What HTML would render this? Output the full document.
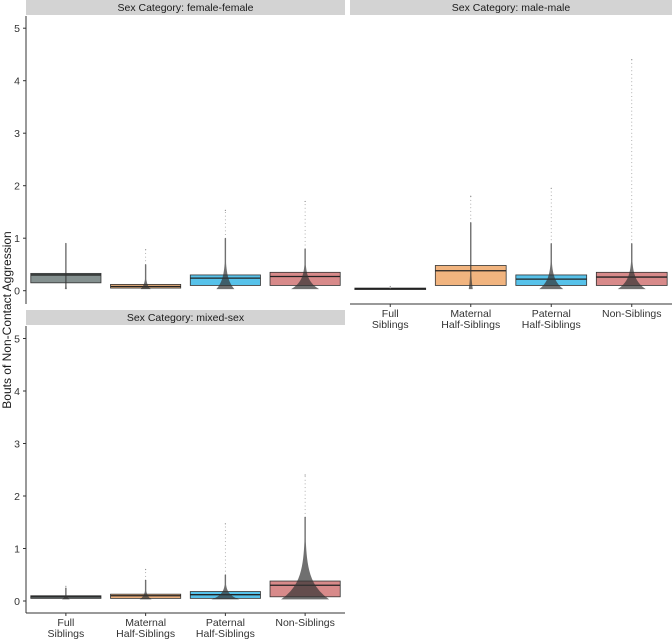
<!DOCTYPE html>
<html><head><meta charset="utf-8"><style>
html,body{margin:0;padding:0;background:#fff;}
svg text{font-family:"Liberation Sans",Arial,sans-serif;}
</style></head><body>
<svg id="chart" width="672" height="639" viewBox="0 0 672 639" xmlns="http://www.w3.org/2000/svg"></svg>
<script>
const categories = ["Full Siblings","Maternal Half-Siblings","Paternal Half-Siblings","Non-Siblings"];
const panelNames = ["female-female","male-male","mixed-sex"];
const yTicks = [0,1,2,3,4,5];
// per panel, per category: q1, median, q3
const q1Vals = [[0.15,0.05,0.10,0.10],[0.03,0.10,0.10,0.10],[0.05,0.05,0.05,0.08]];
const medVals = [[0.30,0.08,0.24,0.27],[0.04,0.38,0.22,0.26],[0.08,0.10,0.12,0.30]];
const q3Vals = [[0.33,0.12,0.30,0.35],[0.05,0.48,0.30,0.35],[0.10,0.13,0.18,0.38]];
const maxVals = [[0.90,0.78,1.53,1.70],[0.08,1.80,1.95,4.40],[0.28,0.60,1.47,2.40]];
const denseTop = [[0.90,0.50,1.00,0.80],[0.05,1.30,0.90,0.90],[0.25,0.40,0.50,1.60]];
const fills = ["#84908f","#f1b47f","#57c2ea","#d88a8a"];
const swarmHalf = [[1,5,9,14],[3,2,12,14],[4,6,14,24]];

const NS="http://www.w3.org/2000/svg";
const svg=document.getElementById('chart');
function mk(tag,attrs,parent){const e=document.createElementNS(NS,tag);for(const k in attrs)e.setAttribute(k,attrs[k]);(parent||svg).appendChild(e);return e;}

const panels=[
 {x0:26,x1:345,zero:290.7,axisBottom:304,stripY:0,yAxis:true,xAxis:false},
 {x0:350,x1:672,zero:290.7,axisBottom:304,stripY:0,yAxis:false,xAxis:true},
 {x0:26,x1:345,zero:601,axisBottom:613,stripY:310,yAxis:true,xAxis:true}
];
const unit=52.5;
panels.forEach((p,pi)=>{
  const g=mk('g',{});
  
  
  const y=v=>p.zero-v*unit;
  const bw=(p.x1-p.x0)/4;
  const xc=i=>p.x0+bw*(i+0.5);
  const strip=mk('rect',{x:p.x0,y:p.stripY,width:p.x1-p.x0,height:15,fill:'#d3d3d3'},g);
  
  
  const st=mk('text',{x:(p.x0+p.x1)/2,y:p.stripY+11,'text-anchor':'middle','font-size':'10.5',fill:'#1a1a1a'},g);
  st.textContent='Sex Category: '+panelNames[pi];
  
  
  if(p.yAxis){
    const ax=mk('line',{x1:p.x0,x2:p.x0,y1:p.stripY+16,y2:p.axisBottom,stroke:'#333','stroke-width':1},g);
    
    
    yTicks.forEach(t=>{
      mk('line',{x1:p.x0-3,x2:p.x0,y1:y(t),y2:y(t),stroke:'#333'},g);
      const tt=mk('text',{x:p.x0-6,y:y(t)+4,'text-anchor':'end','font-size':'10.5',fill:'#333'},g);
      tt.textContent=t;
      
      
    });
  }
  if(p.xAxis){
    const ax=mk('line',{x1:p.x0,x2:p.x1,y1:p.axisBottom,y2:p.axisBottom,stroke:'#333'},g);
    
    
  }
  categories.forEach((c,i)=>{
    const cx=xc(i),hw=bw*0.44;
    const box=mk('rect',{x:cx-hw,y:y(q3Vals[pi][i]),width:2*hw,height:Math.max(1.5,(q3Vals[pi][i]-q1Vals[pi][i])*unit),fill:fills[i],stroke:'#333','stroke-width':0.8},g);
    
    
    mk('line',{x1:cx-hw,x2:cx+hw,y1:y(medVals[pi][i]),y2:y(medVals[pi][i]),stroke:'#222','stroke-width':1.3},g);
    for(let v=denseTop[pi][i];v<=maxVals[pi][i];v+=0.07){
      mk('circle',{cx:cx,cy:y(v),r:0.5,fill:'#999'},g);
    }
    mk('circle',{cx:cx,cy:y(maxVals[pi][i]),r:0.6,fill:'#888'},g);
    // dense swarm: width decays quickly with height
    const h=swarmHalf[pi][i], base=0.03, top=denseTop[pi][i];
    const L=[],R=[];
    for(let k=0;k<=20;k++){
      const f=k/20, v=base+(top-base)*f;
      const w=Math.max(0.7,h*Math.exp(-5*f));
      L.push(`${cx-w},${y(v)}`); R.unshift(`${cx+w},${y(v)}`);
    }
    const sw=mk('polygon',{points:L.concat(R).join(' '),fill:'#333','fill-opacity':0.7},g);
    
    
    if(p.xAxis){
      mk('line',{x1:cx,x2:cx,y1:p.axisBottom,y2:p.axisBottom+3,stroke:'#333'},g);
      const words=c==="Non-Siblings"?["Non-Siblings"]:(c==="Full Siblings"?["Full","Siblings"]:[c.split(' ')[0],c.split(' ')[1]]);
      words.forEach((w,k)=>{
        const tl=mk('text',{x:cx,y:p.axisBottom+13+k*11,'text-anchor':'middle','font-size':'10.5',fill:'#333'},g);
        tl.textContent=w;
        
        
      });
    }
  });
});
const yt=mk('text',{x:0,y:0,transform:'translate(11,320) rotate(-90)','text-anchor':'middle','font-size':'12',fill:'#1a1a1a'});
yt.textContent='Bouts of Non-Contact Aggression';


</script>
</body></html>
